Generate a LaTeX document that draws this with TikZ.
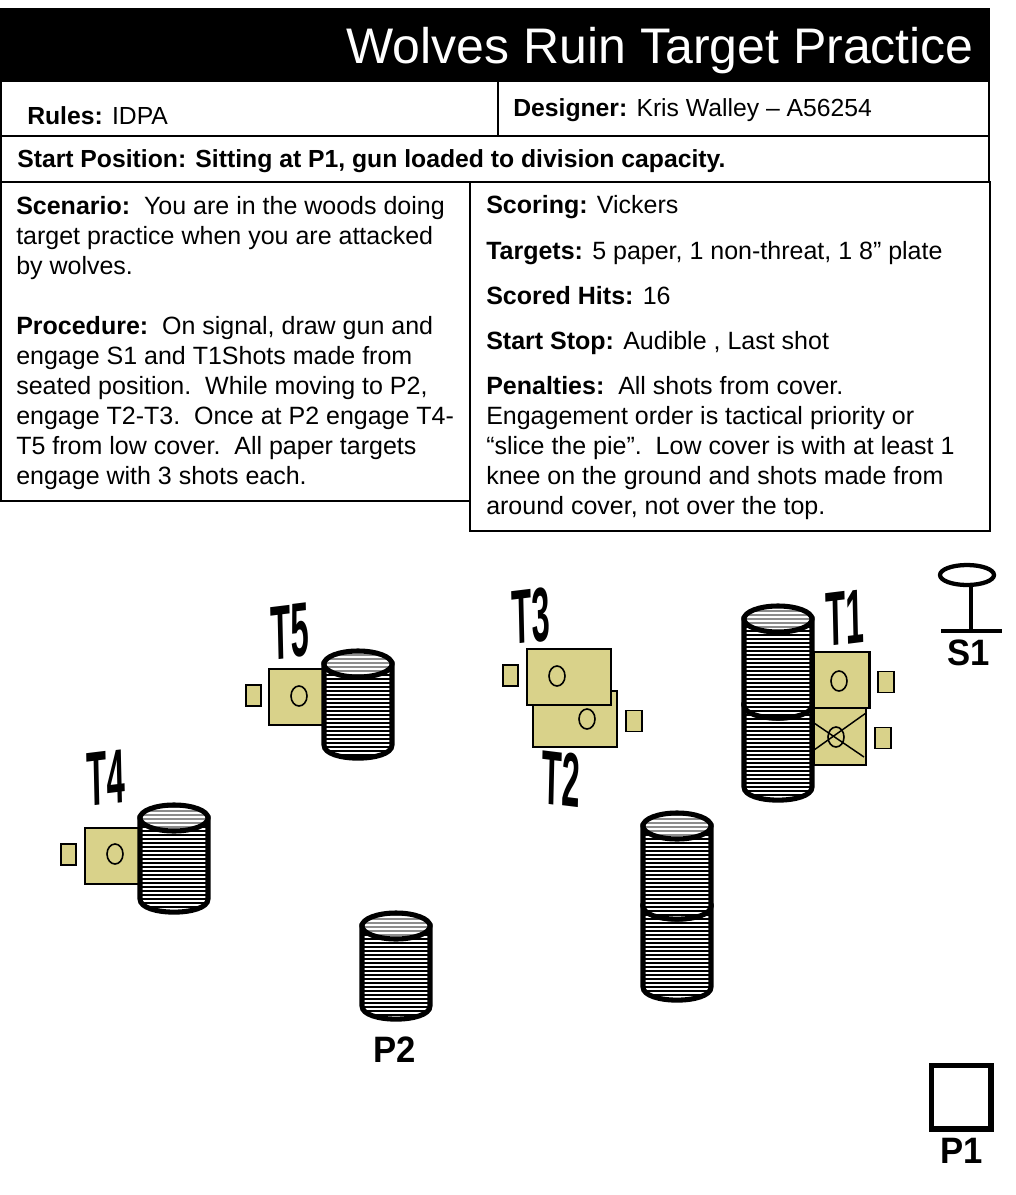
\documentclass[tikz,border=0pt]{standalone}
\usepackage{fontspec}
\setmainfont{Liberation Sans}
\usetikzlibrary{patterns.meta,shapes.geometric}
\definecolor{khaki}{HTML}{D9D28A}
\definecolor{topgrey}{HTML}{8C8C8C}
% centre x, top y, bottom y
\newcommand{\barrel}[3]{%
  \draw[bar] (#1-34,#2) -- (#1-34,#3) .. controls (#1-34,#3+17.5) and (#1+34,#3+17.5) .. (#1+34,#3) -- (#1+34,#2) -- cycle;
  \draw[bartop] (#1,#2) ellipse [x radius=34,y radius=13];
}
\begin{document}
\begin{tikzpicture}[x=0.75pt,y=-0.75pt,
  txt/.style={inner sep=0pt,anchor=base west,align=left,font=\fontsize{18.75}{22.5}\selectfont},
  head/.style={txt,font=\fontsize{18.55}{22.5}\selectfont},
  mark lab/.style={inner sep=0pt,font=\fontsize{26}{30}\selectfont\bfseries,yscale=1.06},
  tlab/.style={inner sep=0pt,font=\fontsize{36}{36}\selectfont\bfseries,xscale=0.68,yscale=1.6},
  tgt/.style={rectangle,draw=black,fill=khaki,line width=1.6pt,inner sep=0pt},
  stake/.style={tgt,line width=1.2pt,minimum width=15.5*0.75pt,minimum height=21*0.75pt},
  aim/.style={ellipse,draw=black,line width=1.2pt,inner sep=0pt,minimum width=16*0.75pt,minimum height=20*0.75pt},
  bar/.style={line width=3.8pt,preaction={fill=white},preaction={pattern={Lines[angle=0,distance=3pt,line width=1.5pt]},pattern color=black}},
  bartop/.style={line width=3.8pt,preaction={fill=white},preaction={pattern={Lines[angle=0,distance=3pt,line width=1.5pt]},pattern color=topgrey}},
  frame/.style={line width=1.5pt,draw=black}]
  \useasboundingbox (0,0) rectangle (1016,1195);
  % header
  \fill[black] (0,8) rectangle (990,82);
  \draw[frame] (1,82) -- (1,182) (989,82) -- (989,182) (498,82) -- (498,136) (0,136) -- (990,136) (0,182) -- (990,182);
  \draw[frame] (1,182) rectangle (470,501);
  \draw[frame] (470,182) rectangle (989.5,531);
  \node[inner sep=0pt,anchor=base east,text=white,font=\fontsize{37.5}{40}\selectfont] (title) at (974,64) {Wolves Ruin Target Practice};
  \node[head] (rules) at (27,125) {\textbf{Rules:} IDPA};
  \node[head] (designer) at (513,117) {\textbf{Designer:} Kris Walley – A56254};
  \node[head] (start) at (17,167) {\textbf{Start Position: Sitting at P1, gun loaded to division capacity.}};
  % text blocks
  \node[txt,anchor=north west] (scenario) at (16,196) {\textbf{Scenario:}\ \ You are in the woods doing\\target practice when you are attacked\\by wolves.\\[22.5pt]\textbf{Procedure:}\ \ On signal, draw gun and\\engage S1 and T1Shots made from\\seated position.\ \ While moving to P2,\\engage T2-T3.\ \ Once at P2 engage T4-\\T5 from low cover.\ \ All paper targets\\engage with 3 shots each.};
  \node[txt] (scoring) at (486,214) {\textbf{Scoring:} Vickers};
  \node[txt] (targets) at (486,259) {\textbf{Targets:} 5 paper, 1 non-threat, 1 8” plate};
  \node[txt] (hits) at (486,304) {\textbf{Scored Hits:} 16};
  \node[txt] (stop) at (486,349) {\textbf{Start Stop:} Audible , Last shot};
  \node[txt,anchor=north west] (penalties) at (486,376) {\textbf{Penalties:}\ \ All shots from cover.\\Engagement order is tactical priority or\\“slice the pie”.\ \ Low cover is with at least 1\\knee on the ground and shots made from\\around cover, not over the top.};
  % T1 and non-threat
  \node[tgt,minimum width=52*0.75pt,minimum height=57*0.75pt] (nt) at (840,736.5) {};
  \node[aim] (ntaim) at (836,737) {};
  \draw[line width=1.1pt] (814,750) -- (866,713) (814,723) -- (864,757);
  \node[tgt,minimum width=56*0.75pt,minimum height=56*0.75pt] (t1box) at (841.5,680) {};
  \node[aim] (t1aim) at (839,681) {};
  \node[stake] (t1stake) at (886,682) {};
  \node[stake] (ntstake) at (883,738) {};
  % T2, T3
  \node[tgt,minimum width=84*0.75pt,minimum height=56*0.75pt] (t2box) at (575,719) {};
  \node[aim] (t2aim) at (587,719) {};
  \node[stake] (t2stake) at (634,721) {};
  \node[tgt,minimum width=84*0.75pt,minimum height=56*0.75pt] (t3box) at (569,677) {};
  \node[aim] (t3aim) at (557,676) {};
  \node[stake] (t3stake) at (510.5,675.5) {};
  % T5, T4
  \node[tgt,minimum width=56*0.75pt,minimum height=56*0.75pt] (t5box) at (297,697) {};
  \node[aim] (t5aim) at (299,696) {};
  \node[stake] (t5stake) at (253.5,695.5) {};
  \node[tgt,minimum width=56*0.75pt,minimum height=56*0.75pt] (t4box) at (113,856) {};
  \node[aim] (t4aim) at (115,854) {};
  \node[stake] (t4stake) at (68.5,854.5) {};
  % barrels
  \barrel{778}{705}{787}
  \barrel{778}{619}{705}
  \barrel{358}{664}{745}
  \barrel{174}{818}{899}
  \barrel{396}{926}{1006}
  \barrel{677}{906}{987}
  \barrel{677}{826}{906}
  % target labels
  \node[tlab,rotate=3] (t1lab) at (845,618) {T1};
  \node[tlab,rotate=-3] (t2lab) at (561,779) {T2};
  \node[tlab,rotate=3] (t3lab) at (531,616) {T3};
  \node[tlab,rotate=3] (t4lab) at (106,778) {T4};
  \node[tlab,rotate=3] (t5lab) at (290,632) {T5};
  % S1 and the positions
  \draw[line width=3.2pt] (967,575) ellipse [x radius=27,y radius=10];
  \draw[line width=3.2pt] (971,585) -- (971,631) (941,631) -- (1002,631);
  \node[mark lab] (s1) at (969,653) {S1};
  \node[mark lab] (p2) at (395,1050) {P2};
  \draw[line width=3.8pt] (931.5,1065.5) rectangle (991,1129);
  \node[mark lab] (p1) at (962,1151) {P1};
\end{tikzpicture}
\end{document}
